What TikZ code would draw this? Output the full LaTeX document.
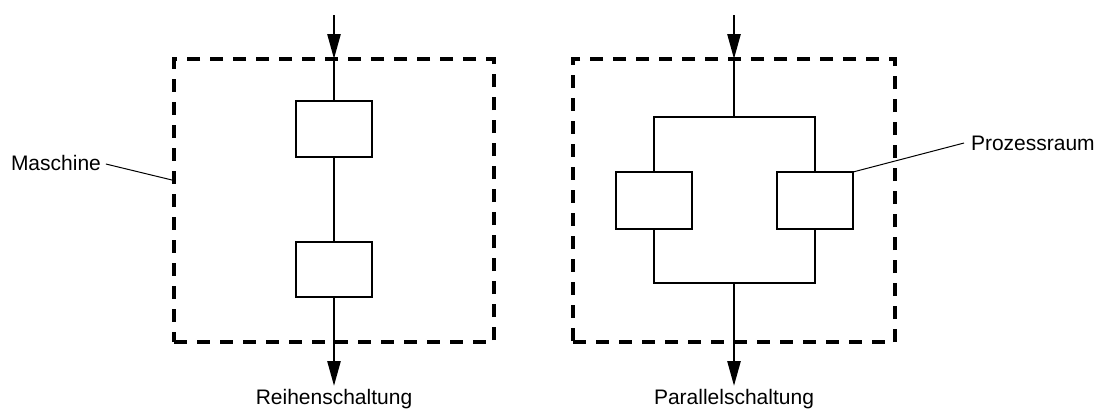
\documentclass[tikz,border=0pt]{standalone}
\usepackage{fontspec}
\setmainfont{Liberation Sans}
\usetikzlibrary{arrows.meta}
\begin{document}
\begin{tikzpicture}[x=1pt,y=-1pt,
  every node/.style={font=\fontsize{21}{25}\selectfont, inner sep=0pt, outer sep=0pt},
  unit/.style={draw, line width=2.6pt, minimum width=76pt, minimum height=56pt},
  machine/.style={draw, line width=3.2pt, dash pattern=on 13pt off 10pt},
  flow/.style={line width=2.6pt},
  flowarrow/.style={line width=2.6pt, -{Triangle[length=25pt,width=13pt]}},
  leader/.style={line width=1pt}]
  \useasboundingbox (0,0) rectangle (1097,410);

  % Reihenschaltung
  \node[machine, minimum width=320pt, minimum height=283pt] (m1) at (334,200.5) {};
  \node[unit] (b1) at (334,129) {};
  \node[unit, minimum height=55pt] (b2) at (334,269.5) {};
  \coordinate (in1) at (334,15);
  \coordinate (out1) at (334,386);
  \draw[flowarrow] (in1) -- (m1.north);
  \draw[flow] (m1.north) -- (b1.north);
  \draw[flow] (b1.south) -- (b2.north);
  \draw[flowarrow] (b2.south) -- (out1);
  \node[anchor=base] (l1) at (334,404) {Reihenschaltung};

  % Parallelschaltung
  \node[machine, minimum width=322pt, minimum height=283pt] (m2) at (734,200.5) {};
  \node[unit, minimum height=57pt] (p1) at (654,200.5) {};
  \node[unit, minimum height=57pt] (p2) at (815,200.5) {};
  \coordinate (in2) at (734,15);
  \coordinate (jt) at (734,117);
  \coordinate (jb) at (734,283);
  \coordinate (out2) at (734,386);
  \draw[flowarrow] (in2) -- (m2.north);
  \draw[flow] (m2.north) -- (jt);
  \draw[flow] (p1.north) |- (jt) -| (p2.north);
  \draw[flow] (p1.south) |- (jb) -| (p2.south);
  \draw[flowarrow] (jb) -- (out2);
  \node[anchor=base] (l2) at (734,404) {Parallelschaltung};

  % Beschriftungen
  \node[anchor=base west] (lm) at (11,170) {Maschine};
  \draw[leader] ([xshift=5pt,yshift=6pt]lm.base east) -- ([yshift=20pt]m1.west);
  \node[anchor=base west] (lp) at (971,150) {Prozessraum};
  \draw[leader] (p2.north east) -- ([xshift=-7pt,yshift=7pt]lp.base west);
\end{tikzpicture}
\end{document}
